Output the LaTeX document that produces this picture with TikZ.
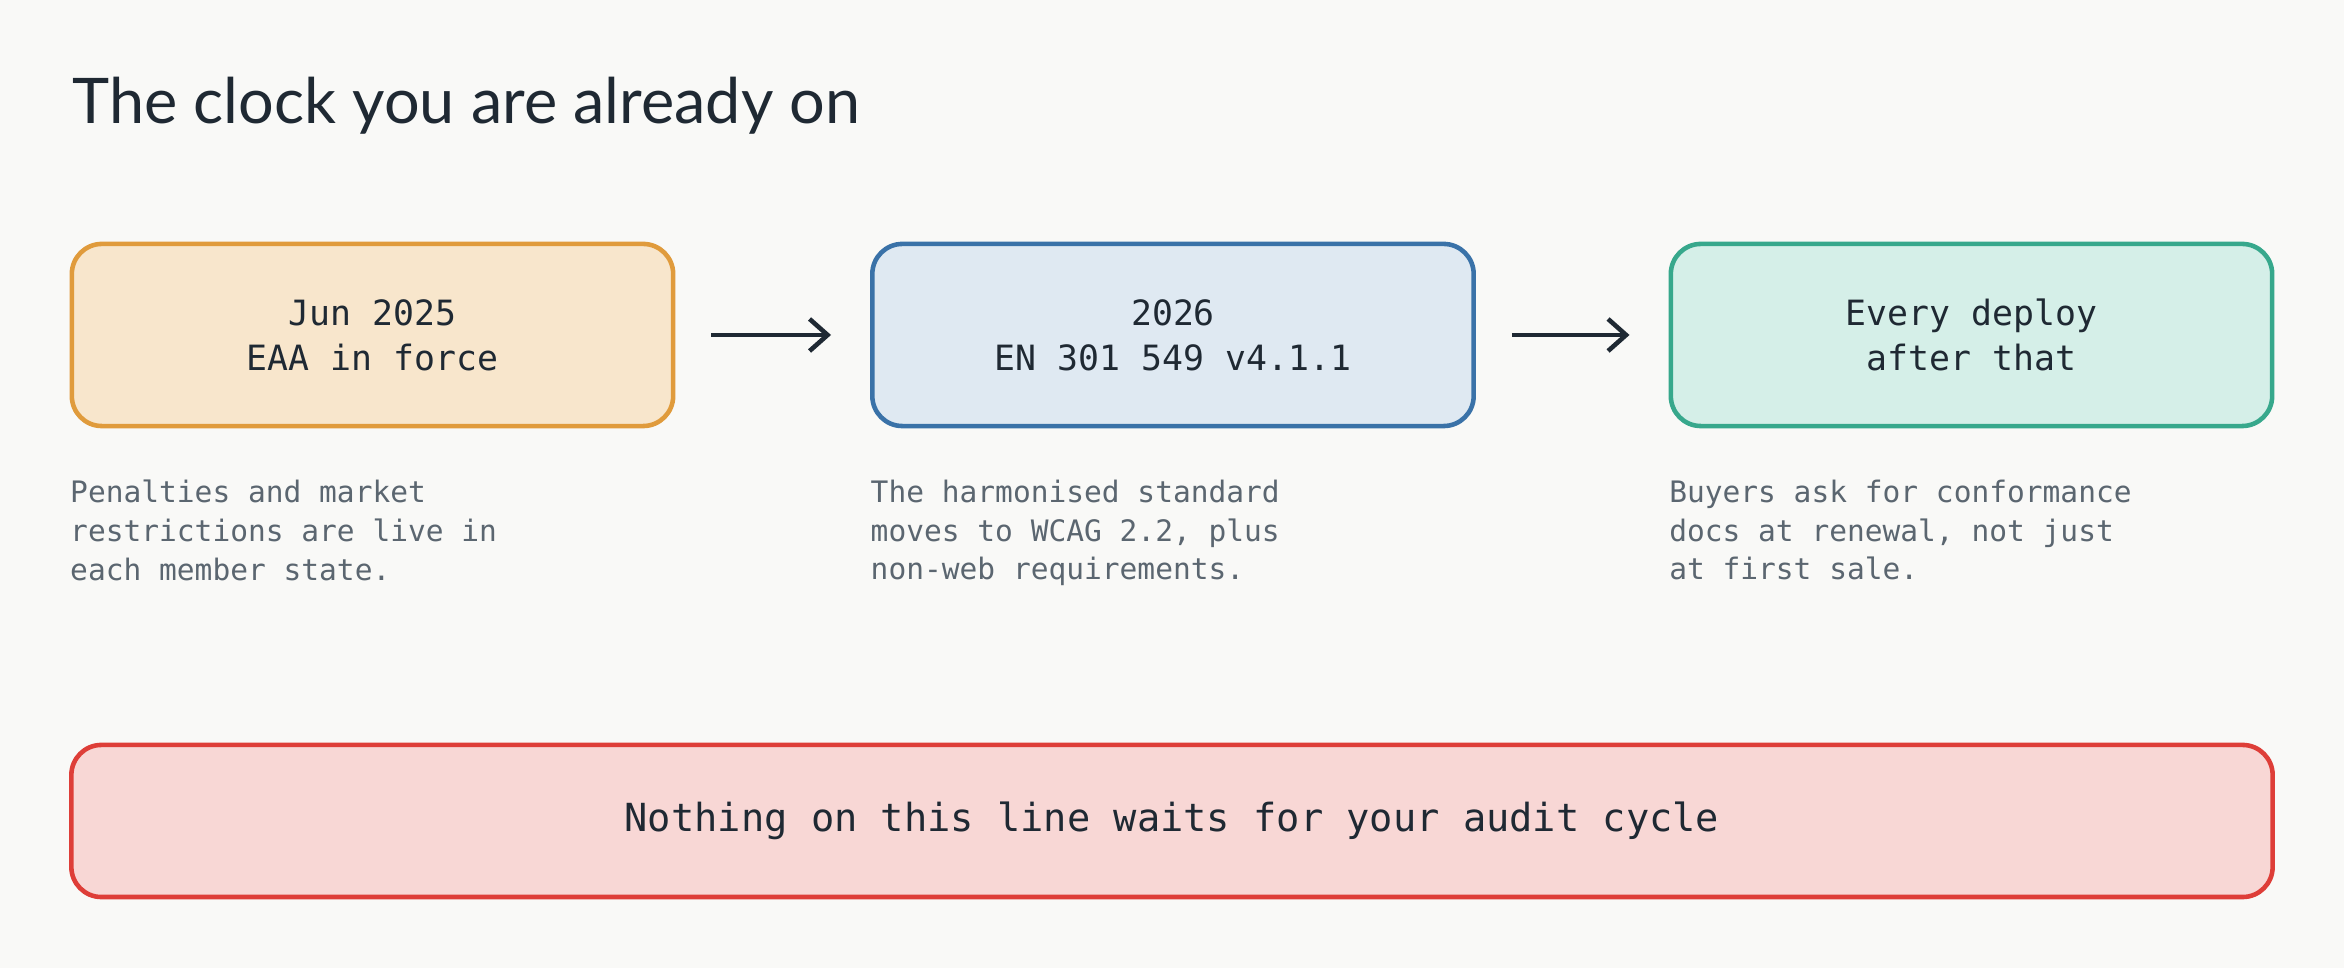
\documentclass[tikz,border=0pt]{standalone}
\usepackage{fontspec}
\setmainfont{Lato}
\setmonofont{DejaVu Sans Mono}
\usetikzlibrary{arrows.meta,positioning}
\definecolor{paper}{HTML}{F9F9F7}
\definecolor{ink}{HTML}{1F2933}
\definecolor{slate}{HTML}{5B6670}
\definecolor{amberfill}{HTML}{F8E6CC}
\definecolor{amberline}{HTML}{E09B3C}
\definecolor{bluefill}{HTML}{DFE9F2}
\definecolor{blueline}{HTML}{3A72A8}
\definecolor{tealfill}{HTML}{D5EFE8}
\definecolor{tealline}{HTML}{37A88C}
\definecolor{redfill}{HTML}{F8D7D5}
\definecolor{redline}{HTML}{DE3E38}
\begin{document}
\begin{tikzpicture}[x=0.01cm,y=-0.01cm,
  stage/.style={draw,line width=1.3pt,rounded corners=0.3cm,minimum width=6.01cm,minimum height=1.82cm,align=center,text=ink,font=\ttfamily\fontsize{9.9}{12.8}\selectfont},
  note/.style={align=left,inner sep=0pt,text=slate,font=\ttfamily\fontsize{8.4}{11}\selectfont},
  flow/.style={-{Straight Barb[length=1.8mm,width=3.2mm]},line width=1.3pt,draw=ink,shorten <=0.36cm,shorten >=0.39cm}]
\fill[paper] (0,0) rectangle (2344,968);
\path (72,124) node[anchor=base west,inner sep=0pt,text=ink,font=\fontsize{17.9}{21}\selectfont] (title) {The clock you are already on};
% the three stages
\node[stage,fill=amberfill,draw=amberline] (jun) at (372.5,335) {Jun 2025\\EAA in force};
\node[stage,fill=bluefill,draw=blueline] (std) at (1173,335) {2026\\EN 301 549 v4.1.1};
\node[stage,fill=tealfill,draw=tealline] (dep) at (1971.5,335) {Every deploy\\after that};
\draw[flow] (jun) -- (std);
\draw[flow] (std) -- (dep);
\node[note,below right=0.51cm and 0cm of jun.south west] (junnote) {Penalties and market\\restrictions are live in\\each member state.};
\node[note,below right=0.51cm and 0cm of std.south west] (stdnote) {The harmonised standard\\moves to WCAG 2.2, plus\\non-web requirements.};
\node[note,below right=0.51cm and 0cm of dep.south west] (depnote) {Buyers ask for conformance\\docs at renewal, not just\\at first sale.};
\node[stage,fill=redfill,draw=redline,minimum width=22cm,minimum height=1.52cm,font=\ttfamily\fontsize{11}{13}\selectfont] (audit) at (1172,821) {Nothing on this line waits for your audit cycle};
\end{tikzpicture}
\end{document}
